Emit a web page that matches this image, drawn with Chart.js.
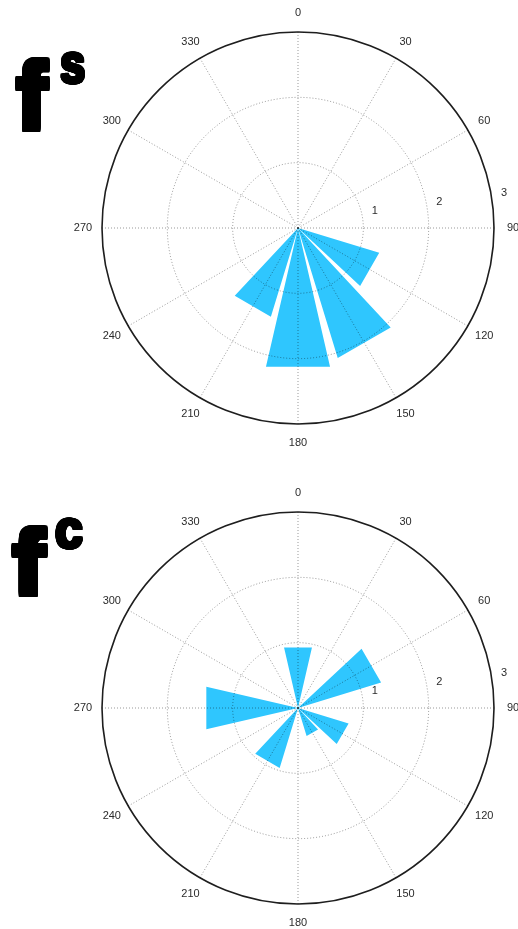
<!DOCTYPE html>
<html>
<head>
<meta charset="utf-8">
<script src="https://cdn.jsdelivr.net/npm/chart.js@4.4.1/dist/chart.umd.min.js"></script>
<style>
  html, body { margin: 0; padding: 0; background: #fff; }
  body { width: 518px; height: 929px; position: relative; overflow: hidden; }
  canvas { position: absolute; left: 0; }
</style>
</head>
<body>
<canvas id="roseS" width="518" height="465" style="top:0px"></canvas>
<canvas id="roseC" width="518" height="464" style="top:465px"></canvas>
<script>
// Direction bins (degrees, clockwise from north) and their rose values
const binCenters  = [0, 30, 60, 90, 120, 150, 180, 210, 240, 270, 300, 330];
const angleLabels = ['0', '30', '60', '90', '120', '150', '180', '210', '240', '270', '300', '330'];
const radiusTicks = [1, 2, 3];
const fsValues = [0, 0, 0, 0, 1.30, 2.08, 2.18, 1.42, 0, 0, 0, 0];
const fcValues = [0.95, 0, 1.33, 0, 0.81, 0.45, 0, 0.96, 0, 1.44, 0, 0];

const HALF_WEDGE = 13;          // each petal spans +/-13 degrees around its bin centre
const WEDGE_COLOR = '#2fc6fe';
const GRID_DOT = 'rgba(0,0,0,0.40)';

// one radar label per degree so the petal corners land on exact angles
const degreeLabels = Array.from({ length: 360 }, (_, i) => i);

// Each petal is a triangle: centre -> (c-13, v) -> (c+13, v); nulls are spanned by straight edges
function petalDatasets(values) {
  const sets = [];
  values.forEach((v, k) => {
    if (!v) return;
    const c = binCenters[k];
    const data = new Array(360).fill(null);
    data[(c - HALF_WEDGE + 360) % 360] = v;
    data[(c + HALF_WEDGE) % 360] = v;
    data[(c + 180) % 360] = 0;
    sets.push({
      data,
      backgroundColor: WEDGE_COLOR,
      borderColor: 'transparent',
      borderWidth: 0,
      pointRadius: 0,
      pointHoverRadius: 0,
      spanGaps: true,
      fill: 'origin'
    });
  });
  return sets;
}

// Draws a string stretched into a pixel box, thickened by repeated offset fills
function boxText(ctx, text, x0, y0, x1, y1, weightPx) {
  ctx.save();
  ctx.font = 'bold 100px "Liberation Sans", Arial, sans-serif';
  const m = ctx.measureText(text);
  const w = m.actualBoundingBoxLeft + m.actualBoundingBoxRight;
  const h = m.actualBoundingBoxAscent + m.actualBoundingBoxDescent;
  const sx = (x1 - x0 - weightPx) / w;
  const sy = (y1 - y0 - weightPx) / h;
  ctx.fillStyle = '#000';
  ctx.textBaseline = 'alphabetic';
  ctx.textAlign = 'left';
  for (let dx = 0; dx <= weightPx; dx += 0.5) {
    for (let dy = 0; dy <= weightPx; dy += 0.5) {
      ctx.setTransform(sx, 0, 0, sy, x0 + dx, y0 + dy);
      ctx.fillText(text, m.actualBoundingBoxLeft, m.actualBoundingBoxAscent);
    }
  }
  ctx.restore();
}

const polarLabels = {
  id: 'polarLabels',
  afterDraw(chart, args, opts) {
    const r = chart.scales.r;
    const ctx = chart.ctx;
    ctx.save();
    ctx.fillStyle = '#2b2b2b';
    ctx.font = '11px "Liberation Sans", Arial, sans-serif';
    ctx.textAlign = 'center';
    ctx.textBaseline = 'middle';
    const outer = r.getDistanceFromCenterForValue(r.max);
    angleLabels.forEach((t, k) => {
      const p = r.getPointPosition(binCenters[k], outer + 19);
      ctx.fillText(t, p.x, p.y);
    });
    radiusTicks.forEach(v => {
      const p = r.getPointPositionForValue(82, v);
      ctx.fillText(String(v), p.x + 12, p.y - 8);
    });
    ctx.restore();
    const b = opts.mainBox, s = opts.supBox;
    boxText(ctx, opts.main, b[0], b[1], b[2], b[3], 6);
    boxText(ctx, opts.sup, s[0], s[1], s[2], s[3], 3);
  }
};

function makeRose(id, values, pad, main, sup, mainBox, supBox) {
  return new Chart(document.getElementById(id), {
    type: 'radar',
    data: { labels: degreeLabels, datasets: petalDatasets(values) },
    options: {
      responsive: false,
      animation: false,
      events: [],
      layout: { padding: pad },
      plugins: {
        legend: { display: false },
        tooltip: { enabled: false },
        polarLabels: { main, sup, mainBox, supBox }
      },
      scales: {
        r: {
          min: 0,
          max: 3,
          startAngle: 0,
          ticks: { display: false, stepSize: 1 },
          pointLabels: { display: false },
          grid: {
            z: 1,
            circular: true,
            color: c => (c.tick && c.tick.value === 3) ? '#1e1e1e' : GRID_DOT,
            lineWidth: c => (c.tick && c.tick.value === 3) ? 1.6 : 1
          },
          border: {
            dash: c => (c.tick && c.tick.value === 3) ? [] : [1, 2]
          },
          angleLines: {
            display: true,
            color: c => (c.index % 30 === 0) ? GRID_DOT : 'transparent',
            lineWidth: c => (c.index % 30 === 0) ? 1 : 0,
            borderDash: [1, 2]
          }
        }
      }
    },
    plugins: [polarLabels]
  });
}

makeRose('roseS', fsValues, { left: 102, right: 24, top: 32, bottom: 41 },
  'f', 's', [15, 57, 50, 132], [60, 52, 85, 85]);
makeRose('roseC', fcValues, { left: 102, right: 24, top: 47, bottom: 25 },
  'f', 'c', [11, 60, 48, 132], [55, 53, 83, 85]);
</script>
</body>
</html>
